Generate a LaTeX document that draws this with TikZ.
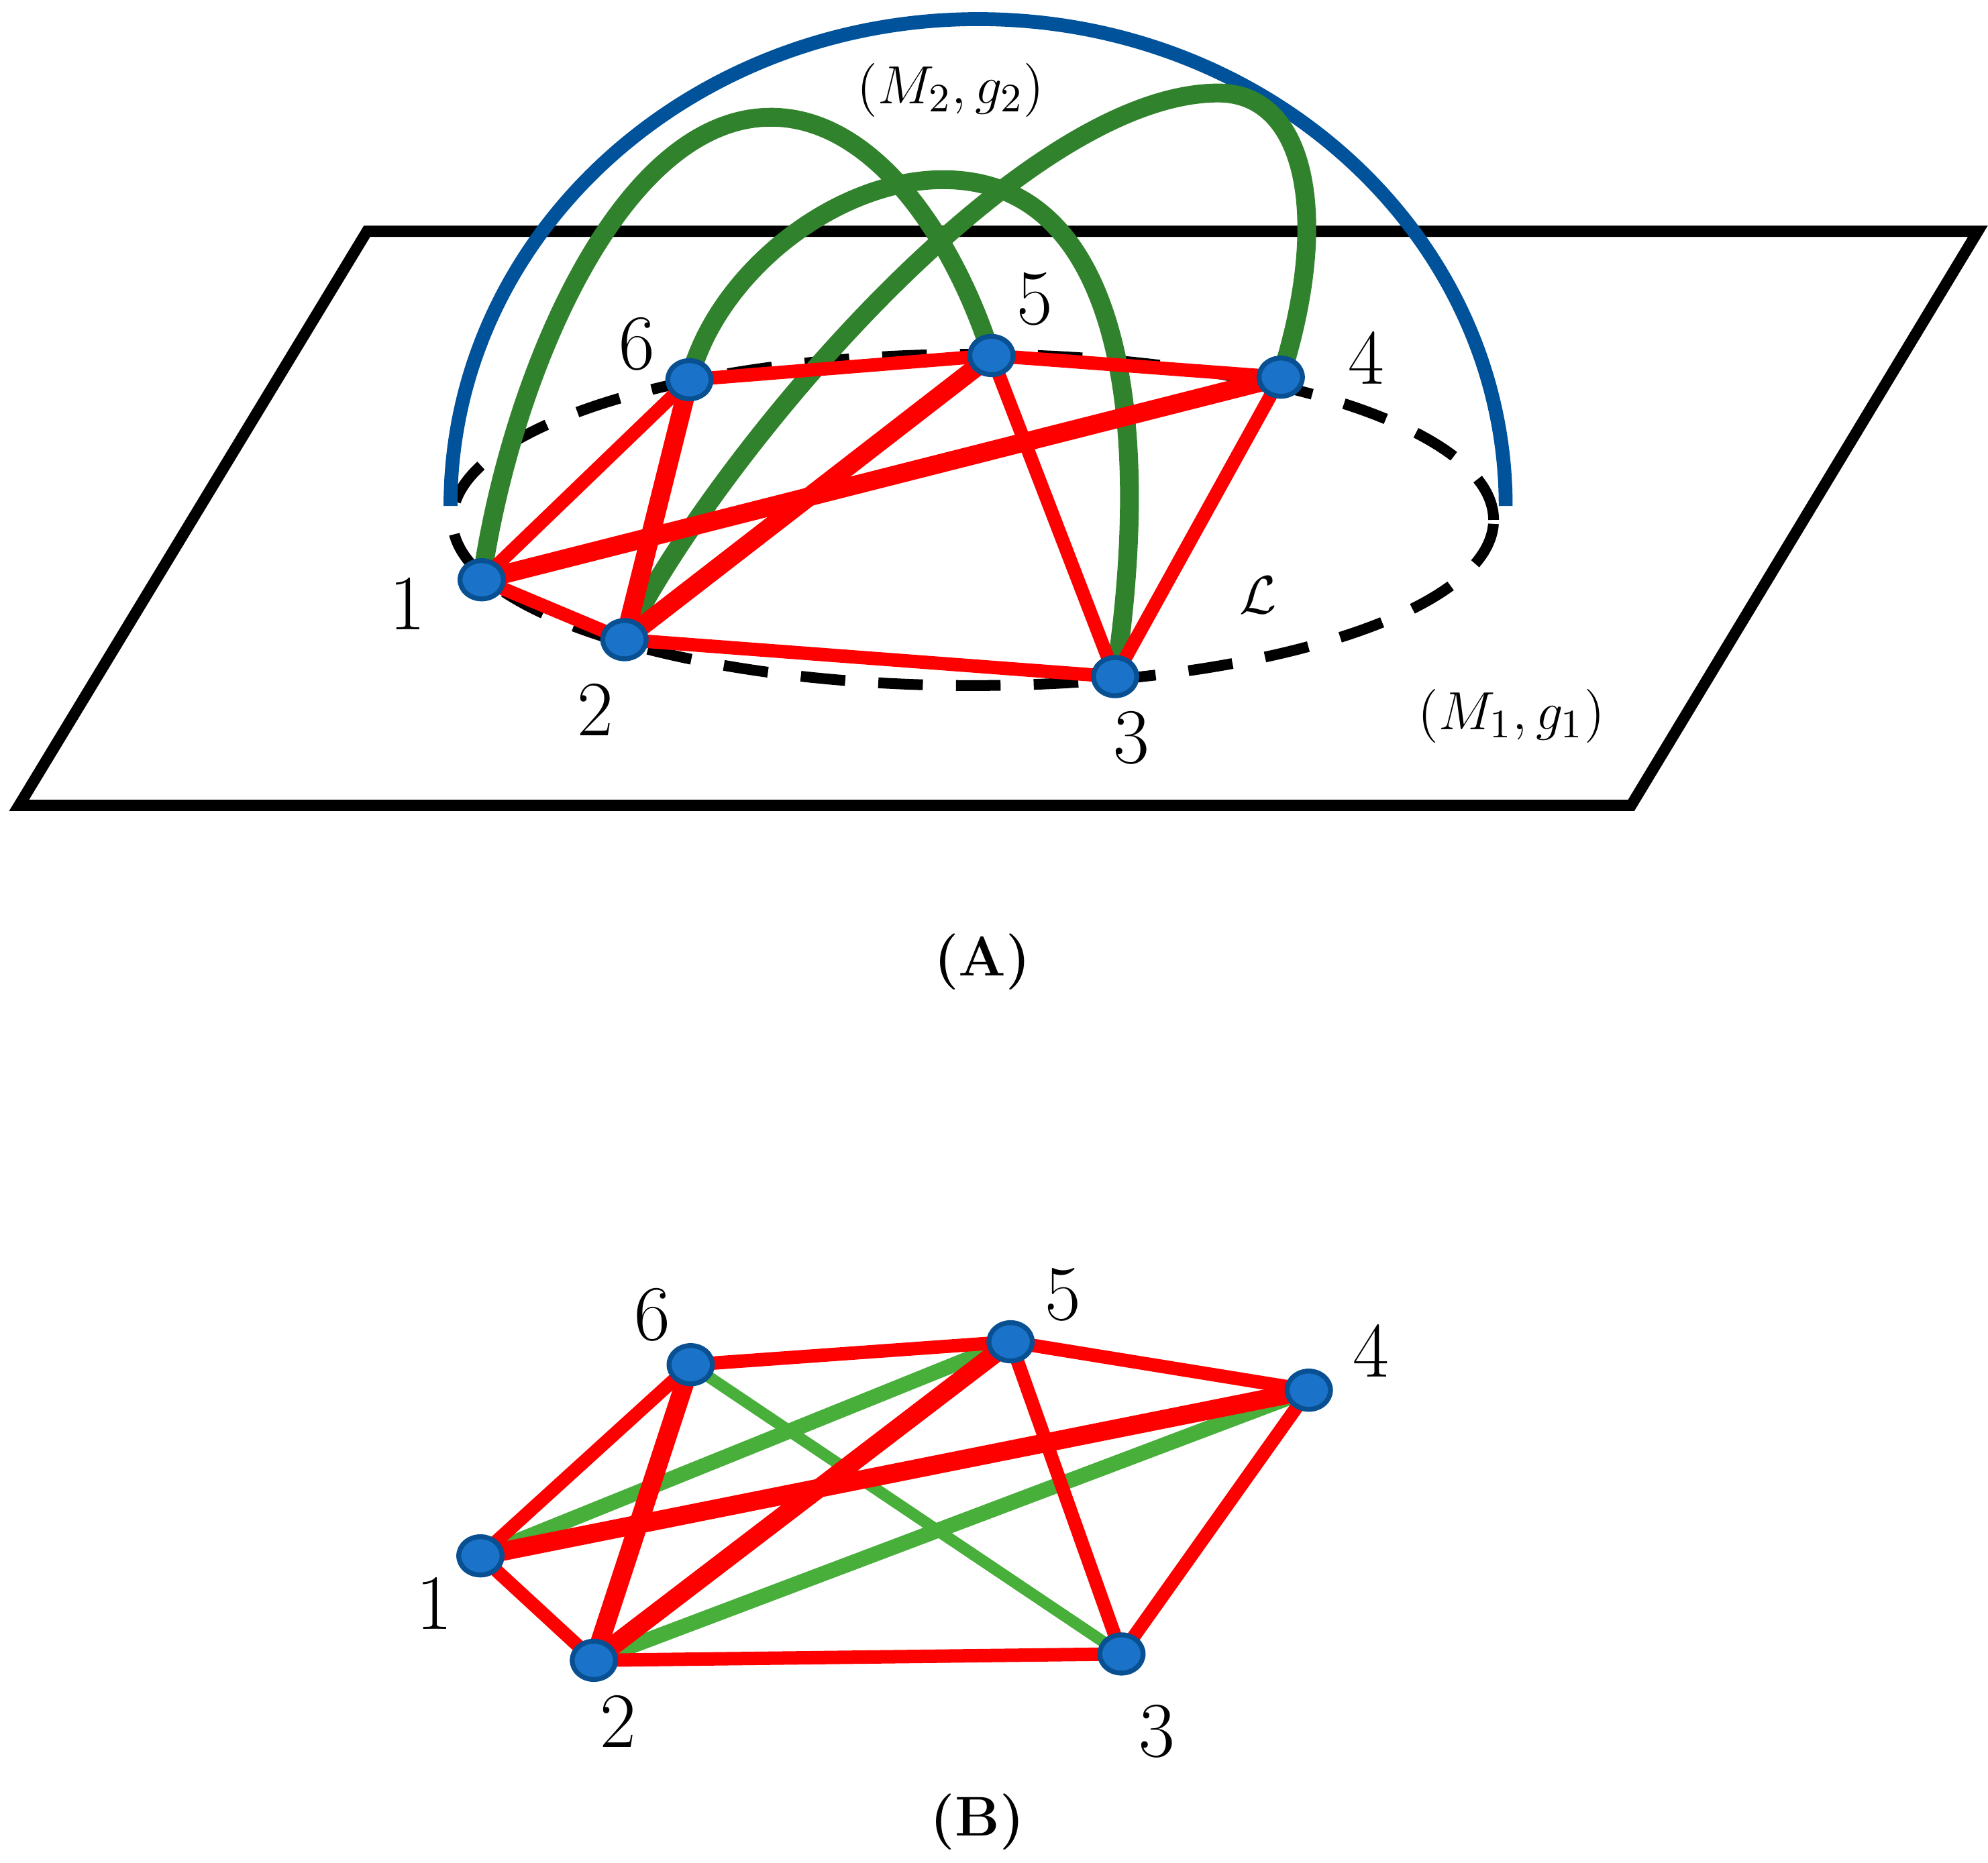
\documentclass[tikz,border=0pt]{standalone}
\usepackage{tikz}
\usetikzlibrary{shapes.geometric}
\usetikzlibrary{calc}

\definecolor{arcblue}{RGB}{0,82,155}
\definecolor{arcgreen}{RGB}{49,130,45}
\definecolor{edgegreen}{RGB}{71,175,58}
\definecolor{vtxfill}{RGB}{26,115,200}
\definecolor{vtxline}{RGB}{8,80,145}

\begin{document}
\begin{tikzpicture}[
   vtx/.style={ellipse, fill=vtxfill, draw=vtxline, line width=1.1pt, minimum width=0.34cm, minimum height=0.30cm, inner sep=0pt},
   num/.style={font=\fontsize{17.5}{20}\selectfont},
   caption/.style={font=\fontsize{12.5}{15}\selectfont\bfseries},
   manifold/.style={font=\fontsize{13}{15}\selectfont},
   plane/.style={black, line width=2.5pt, line join=miter},
   ring/.style={black, line width=2.4pt, dash pattern=on 0.35cm off 0.26cm},
   bluearc/.style={arcblue, line width=3.1pt},
   greenarc/.style={arcgreen, line width=4.2pt},
   redline/.style={red, line width=3pt},
   redthick/.style={red, line width=4.2pt},
   greenline/.style={edgegreen, line width=3.4pt},
   greenthin/.style={edgegreen, line width=2.6pt}
]

 \useasboundingbox (0,0) rectangle (15.6,-14.616);

%positions (A)
 \foreach \name/\x/\y in {a1/3.78/-4.55, a2/4.90/-5.02, a3/8.75/-5.31, a4/10.05/-2.96, a5/7.78/-2.79, a6/5.41/-2.98}{
      \coordinate (\name) at (\x,\y);
 }
%positions (B)
 \foreach \name/\x/\y in {b1/3.77/-12.21, b2/4.66/-13.03, b3/8.80/-12.98, b4/10.27/-10.91, b5/7.93/-10.53, b6/5.42/-10.71}{
      \coordinate (\name) at (\x,\y);
 }

%plane M1
 \draw[plane] (2.88,-1.815) -- (15.52,-1.815) -- (12.80,-6.32) -- (0.15,-6.32) -- cycle;

%the loop L
 \draw[ring] (7.635,-4.08) ellipse [x radius=4.085, y radius=1.30];

%M2
 \coordinate (bl) at (3.535,-3.97);
 \draw[bluearc] (bl) arc[start angle=180, end angle=0, x radius=4.14, y radius=3.82];

%green arcs
 \coordinate (t15) at (6.05,-0.92);
 \coordinate (t24) at (9.56,-0.73);
 \coordinate (t63) at (7.40,-1.41);
 \draw[greenarc] (a1) .. controls (4.00,-3.00) and (4.85,-0.92) .. (t15) .. controls (6.85,-0.92) and (7.48,-1.85) .. (a5);
 \draw[greenarc] (a2) .. controls (5.60,-3.60) and (8.00,-0.73) .. (t24) .. controls (10.25,-0.73) and (10.45,-1.70) .. (a4);
 \draw[greenarc] (a6) .. controls (5.62,-2.15) and (6.55,-1.41) .. (t63) .. controls (8.80,-1.41) and (9.05,-3.30) .. (a3);

%red edges (A)
 \foreach \s/\t in {a1/a6, a1/a2, a2/a3, a6/a5, a5/a4, a5/a3, a4/a3}{
      \draw[redline] (\s) -- (\t);
 }
 \foreach \s/\t in {a1/a4, a2/a5, a2/a6}{
      \draw[redthick] (\s) -- (\t);
 }

%green edges (B)
 \draw[greenline] (b1) -- (b5);
 \draw[greenline] (b2) -- (b4);
 \draw[greenthin] (b6) -- (b3);

%red edges (B)
 \foreach \s/\t in {b1/b6, b1/b2, b2/b3, b6/b5, b5/b4, b5/b3, b4/b3}{
      \draw[redline] (\s) -- (\t);
 }
 \foreach \s/\t in {b1/b4, b2/b5, b2/b6}{
      \draw[redthick] (\s) -- (\t);
 }

%vertices
 \foreach \i in {1,...,6}{
      \node[vtx] (va\i) at (a\i) {};
      \node[vtx] (vb\i) at (b\i) {};
 }

%numbers
 \foreach \i/\x/\y in {1/3.20/-4.74, 2/4.67/-5.57, 3/8.88/-5.79, 4/10.72/-2.81, 5/8.12/-2.35, 6/5.00/-2.70}{
      \node[num] (la\i) at (\x,\y) {\i};
 }
 \foreach \i/\x/\y in {1/3.41/-12.58, 2/4.85/-13.51, 3/9.08/-13.59, 4/10.76/-10.60, 5/8.34/-10.16, 6/5.12/-10.32}{
      \node[num] (lb\i) at (\x,\y) {\i};
 }

%texts
 \node[manifold] (m2) at (7.46,-0.71) {$(M_2, g_2)$};
 \node[manifold] (m1) at (11.86,-5.62) {$(M_1, g_1)$};
 \node[manifold] (loopL) at (9.87,-4.67) {$\mathcal{L}$};
 \node[caption] (capA) at (7.71,-7.55) {(A)};
 \node[caption] (capB) at (7.67,-14.30) {(B)};

\end{tikzpicture}
\end{document}
